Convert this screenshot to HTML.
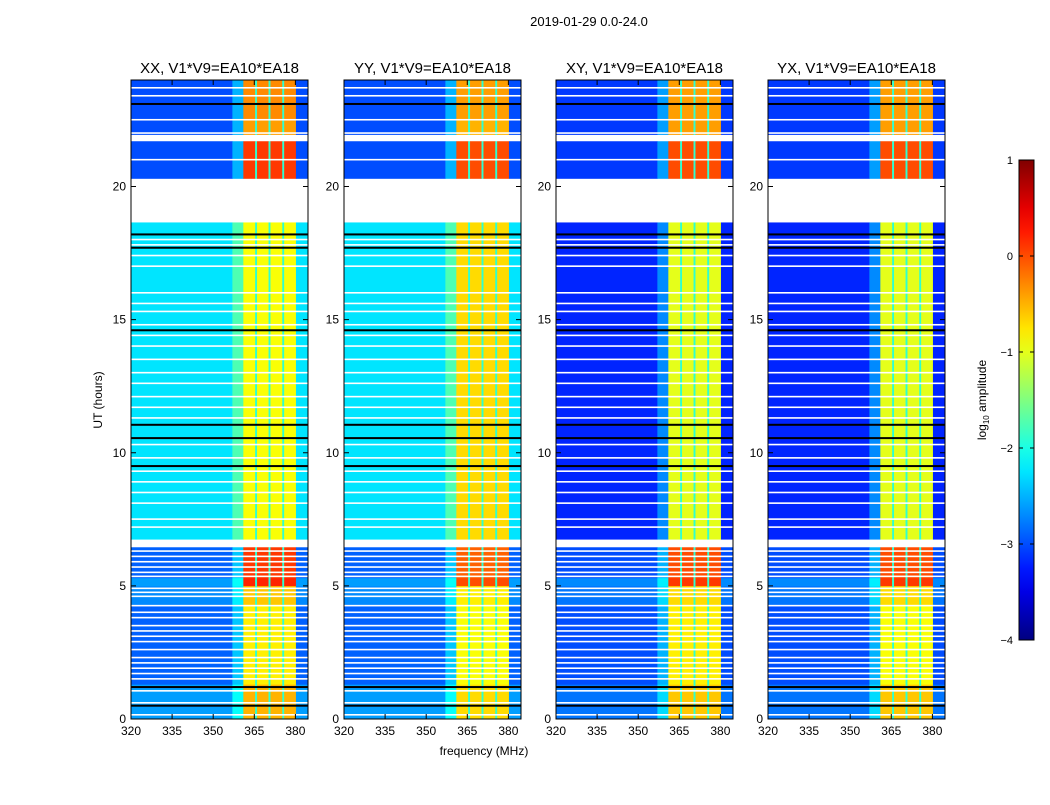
<!DOCTYPE html>
<html><head><meta charset="utf-8">
<style>
body{margin:0;background:#fff;font-family:"Liberation Sans","DejaVu Sans",sans-serif;}
svg text{font-family:"Liberation Sans","DejaVu Sans",sans-serif;}
</style></head>
<body>
<svg id="fig" width="1050" height="800" viewBox="0 0 1050 800" xmlns="http://www.w3.org/2000/svg">
<rect width="1050" height="800" fill="#fff"/>
<text x="589" y="26" font-size="13" text-anchor="middle">2019-01-29 0.0-24.0</text>
<text x="484" y="755" font-size="12" text-anchor="middle">frequency (MHz)</text>
<text x="102" y="400" font-size="12" text-anchor="middle" transform="rotate(-90 102 400)">UT (hours)</text>
<g id="panels"></g>
<g id="cbar"></g>
</svg>
<script>
// ---- data ----
const panelTitles = ["XX, V1*V9=EA10*EA18","YY, V1*V9=EA10*EA18","XY, V1*V9=EA10*EA18","YX, V1*V9=EA10*EA18"];
// time blocks: [startHour, endHour]
const blockStart = [0, 1.3, 4.3, 5.0, 5.3, 6.75, 18.65, 20.3, 21.95, 22.5];
const blockEnd   = [1.3, 4.3, 5.0, 5.3, 6.45, 18.65, 20.3, 21.7, 22.5, 24];
// background level (log10 amplitude) per panel per block (null = flagged/white)
const bgXX = [-2.6,-2.9,-2.7,-2.6,-2.9,-2.25,null,-3.0,-3.0,-3.0];
const bgYY = [-2.6,-2.9,-2.7,-2.6,-2.9,-2.25,null,-3.0,-3.0,-3.0];
const bgXY = [-2.8,-3.0,-2.8,-2.7,-3.0,-3.2,null,-3.1,-3.1,-3.1];
const bgYX = [-2.8,-3.0,-2.8,-2.7,-3.0,-3.2,null,-3.1,-3.1,-3.1];
// band level per panel per block
const bandXX = [-0.5,-0.8,-0.6,0.2,0.1,-0.9,null,0.1,-0.4,-0.3];
const bandYY = [-0.7,-0.9,-0.8,0.0,-0.1,-0.7,null,0.0,-0.5,-0.4];
const bandXY = [-0.6,-0.8,-0.7,0.1,0.0,-1.0,null,0.0,-0.4,-0.4];
const bandYX = [-0.6,-0.9,-0.7,0.1,0.0,-1.0,null,0.0,-0.4,-0.4];
// frequency segments (MHz) and kind: 0=background,1=transition,2=band channel,3=channel gap
const segStart = [320, 357, 361, 365.3, 366, 370.2, 370.9, 375.2, 375.9, 380.2];
const segEnd   = [357, 361, 365.3, 366, 370.2, 370.9, 375.2, 375.9, 380.2, 384.6];
const segKind  = [0, 1, 2, 3, 2, 3, 2, 3, 2, 0];
// flagged lines (hours)
const whiteLines = [0.15,0.6,1.05,1.5,1.7,1.9,2.1,2.3,2.6,2.9,3.1,3.3,3.5,3.8,4.0,4.25,4.6,4.75,4.9,5.35,5.5,5.7,5.9,6.1,6.3,7.2,7.5,8.1,8.5,8.9,9.3,9.8,10.3,11.3,11.7,12.1,12.6,13.0,13.5,14.0,14.4,14.8,15.3,15.6,16.0,17.0,17.4,17.8,18.0,21.0,22.0,22.5,23.4,23.7];
const blackLines = [0.5,1.2,9.5,10.55,11.05,14.6,17.7,18.2,23.1];
const xTicks = [320,335,350,365,380];
const yTicks = [0,5,10,15,20];
const cbTicks = [1,0,-1,-2,-3,-4];

// ---- layout ----
const NS="http://www.w3.org/2000/svg";
const lefts=[131,344,556,768], W=177, TOP=80, BOT=719;
const yS=h=>BOT-h*(BOT-TOP)/24;
const xS=(i,f)=>lefts[i]+(f-320)*W/64.6;
function jet(v){ // v in [-4,1]
  let t=Math.max(0,Math.min(1,(v+4)/5));
  const c=x=>Math.round(255*Math.max(0,Math.min(1,x)));
  const r=c(Math.min(4*t-1.5,-4*t+4.5)), g=c(Math.min(4*t-0.5,-4*t+3.5)), b=c(Math.min(4*t+0.5,-4*t+2.5));
  return `rgb(${r},${g},${b})`;
}
function mk(tag,attrs,parent){const e=document.createElementNS(NS,tag);for(const k in attrs)e.setAttribute(k,attrs[k]);parent.appendChild(e);return e;}
const bgs=[bgXX,bgYY,bgXY,bgYX], bands=[bandXX,bandYY,bandXY,bandYX];
const root=document.getElementById('panels');
for(let p=0;p<4;p++){
  const g=mk('g',{},root);
  
  
  for(let b=0;b<blockStart.length;b++){
    const bg=bgs[p][b], bd=bands[p][b];
    if(bg===null) continue;
    for(let s=0;s<segStart.length;s++){
      const k=segKind[s];
      const v = k===0?bg : k===2?bd : k===1?(bg+0.5) : -1.9;
      const r=mk('rect',{x:xS(p,segStart[s]),y:yS(blockEnd[b]),width:xS(p,segEnd[s])-xS(p,segStart[s])+0.3,height:yS(blockStart[b])-yS(blockEnd[b])+0.3,fill:jet(v)},g);
      
      
    }
  }
  for(const h of whiteLines){
    const r=mk('rect',{x:lefts[p],y:yS(h)-1,width:W,height:1.6,fill:'#fff'},g);
    
    
  }
  for(const h of blackLines){
    const r=mk('rect',{x:lefts[p],y:yS(h)-1,width:W,height:2,fill:'#000'},g);
    
    
  }
  mk('rect',{x:lefts[p],y:TOP,width:W,height:BOT-TOP,fill:'none',stroke:'#000','stroke-width':1},g);
  const t=mk('text',{x:lefts[p]+W/2,y:73,'font-size':15,'text-anchor':'middle'},g);
  t.textContent=panelTitles[p];
  
  
  for(const f of xTicks){
    const x=xS(p,f);
    mk('line',{x1:x,x2:x,y1:BOT,y2:BOT-5,stroke:'#000'},g);
    mk('line',{x1:x,x2:x,y1:TOP,y2:TOP+5,stroke:'#000'},g);
    const tx=mk('text',{x:x,y:BOT+16,'font-size':12,'text-anchor':'middle'},g);
    tx.textContent=f;
    
    
  }
  for(const h of yTicks){
    const y=yS(h);
    mk('line',{x1:lefts[p],x2:lefts[p]+5,y1:y,y2:y,stroke:'#000'},g);
    mk('line',{x1:lefts[p]+W,x2:lefts[p]+W-5,y1:y,y2:y,stroke:'#000'},g);
    const ty=mk('text',{x:lefts[p]-5,y:y+4,'font-size':12,'text-anchor':'end'},g);
    ty.textContent=h;
    
    
  }
}
// colorbar
const cb=document.getElementById('cbar');
const cbX=1019,cbW=15,cbT=160,cbB=640;
const cy=v=>cbB-(v+4)/5*(cbB-cbT);
const defs=mk('defs',{},cb);
const lg=mk('linearGradient',{id:'jetg',x1:0,y1:1,x2:0,y2:0},defs);
for(let i=0;i<=20;i++){mk('stop',{offset:i/20,'stop-color':jet(-4+5*i/20)},lg);}
const cbr=mk('rect',{x:cbX,y:cbT,width:cbW,height:cbB-cbT,fill:'url(#jetg)',stroke:'#000'},cb);


for(const v of cbTicks){
  const y=cy(v);
  mk('line',{x1:cbX,x2:cbX+4,y1:y,y2:y,stroke:'#000'},cb);
  mk('line',{x1:cbX+cbW,x2:cbX+cbW-4,y1:y,y2:y,stroke:'#000'},cb);
  const t=mk('text',{x:1013,y:y+4,'font-size':11,'text-anchor':'end'},cb);
  t.textContent=(v<0?'\u2212'+(-v):v);
  
  
}
const cl=mk('text',{x:986,y:400,'font-size':12,'text-anchor':'middle',transform:'rotate(-90 986 400)'},cb);
cl.innerHTML='log<tspan font-size="8" dy="3">10</tspan><tspan dy="-3"> amplitude</tspan>';


</script>
</body></html>
